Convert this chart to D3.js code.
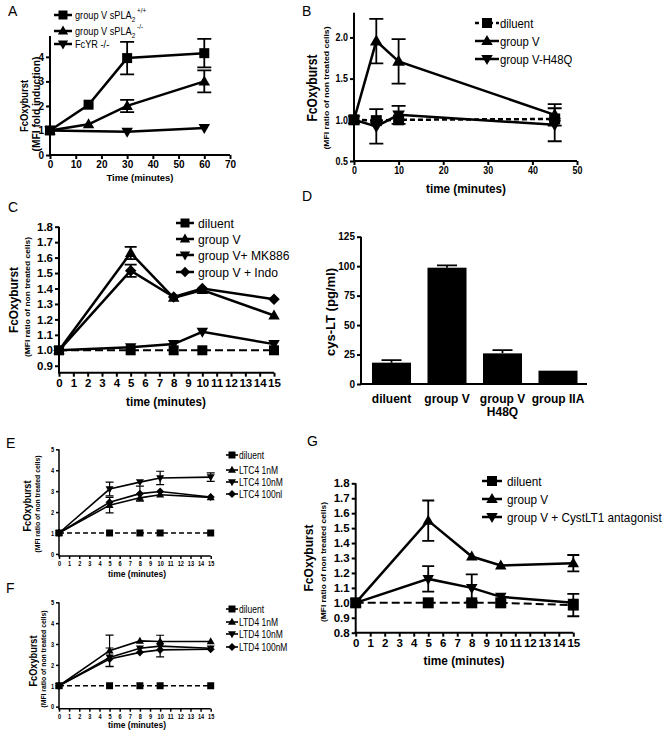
<!DOCTYPE html>
<html><head><meta charset="utf-8">
<script src="https://cdn.jsdelivr.net/npm/d3@7"></script>
<style>
body{margin:0;background:#fff;}
svg{display:block;}
text{font-family:"Liberation Sans",Arial,sans-serif;fill:#000;}
</style></head>
<body><svg id="c" width="667" height="732"></svg>
<script>
// ---------- DATA ----------
// Panel A
const aTime = [0, 15, 30, 60];
const aWT = [1.0, 2.05, 3.95, 4.15];
const aWTErr = [0, 0, 0.66, 0.58];
const aKO = [1.0, 1.25, 2.0, 3.0];
const aKOErr = [0, 0, 0.25, 0.45];
const aFcRTime = [0, 30, 60];
const aFcR = [1.0, 0.95, 1.1];
const aXTicks = [0, 10, 20, 30, 40, 50, 60, 70];
const aYTicks = [0, 1, 2, 3, 4];
// Panel B
const bTime = [0, 5, 10, 45];
const bDiluent = [1.0, 0.99, 1.0, 1.01];
const bGroupV = [1.0, 1.955, 1.71, 1.06];
const bGroupVErr = [0, 0.27, 0.27, 0.13];
const bH48Q = [1.0, 0.92, 1.06, 0.94];
const bH48QErr = [0, 0.21, 0.11, 0.2];
const bXTicks = [0, 10, 20, 30, 40, 50];
const bYTicks = [0.5, 1.0, 1.5, 2.0];
// Panel C
const cTime = [0, 5, 8, 10, 15];
const cDiluent = [1, 1, 1, 1, 1];
const cGroupV = [1.0, 1.63, 1.34, 1.39, 1.225];
const cGroupVErr = [0, 0.04, 0, 0, 0];
const cMK886 = [1.0, 1.02, 1.04, 1.12, 1.04];
const cIndo = [1.0, 1.515, 1.345, 1.40, 1.33];
const cIndoErr = [0, 0.04, 0, 0, 0];
const cXTicks = d3.range(0, 16);
const cYTicks = [0.9, 1.0, 1.1, 1.2, 1.3, 1.4, 1.5, 1.6, 1.7, 1.8];
// Panel D
const dCats = ["diluent", "group V", "group V|H48Q", "group IIA"];
const dValues = [18.1, 98.7, 26.0, 11.3];
const dErr = [2.2, 2.0, 2.7, 0];
const dYTicks = [0, 25, 50, 75, 100, 125];
// Panel E
const eTime = [0, 5, 8, 10, 15];
const eDiluent = [1, 1, 1, 1, 1];
const eLTC4_1 = [1, 2.33, 2.68, 2.83, 2.7];
const eLTC4_1Err = [0, 0.37, 0, 0, 0];
const eLTC4_10 = [1, 3.1, 3.43, 3.63, 3.67];
const eLTC4_10Err = [0, 0.33, 0, 0.32, 0.2];
const eLTC4_100 = [1, 2.47, 2.88, 2.98, 2.72];
const eLTC4_100Err = [0, 0, 0.36, 0, 0];
// Panel F
const fDiluent = [1, 1, 1, 1, 1];
const fLTD4_1 = [1, 2.68, 3.15, 3.12, 3.12];
const fLTD4_1Err = [0, 0.75, 0, 0, 0];
const fLTD4_10 = [1, 2.36, 2.8, 2.9, 2.8];
const fLTD4_10Err = [0, 0.45, 0, 0.52, 0];
const fLTD4_100 = [1, 2.28, 2.6, 2.72, 2.75];
const efXTicks = d3.range(0, 16);
const efYTicks = [0, 1, 2, 3, 4, 5];
// Panel G
const gTime = [0, 5, 8, 10, 15];
const gDiluent = [1, 1, 1, 1, 0.985];
const gDiluentErr = [0, 0, 0, 0, 0.075];
const gGroupV = [1.0, 1.55, 1.31, 1.25, 1.265];
const gGroupVErr = [0, 0.135, 0, 0, 0.055];
const gAnt = [1.0, 1.16, 1.10, 1.04, 1.0];
const gAntErr = [0, 0.085, 0.09, 0, 0];
const gXTicks = d3.range(0, 16);
const gYTicks = [0.8, 0.9, 1.0, 1.1, 1.2, 1.3, 1.4, 1.5, 1.6, 1.7, 1.8];

// ---------- HELPERS ----------
const svg = d3.select("#c");
svg.append("rect").attr("width", 667).attr("height", 732).attr("fill", "#fff");

function squeeze(sel, k) {
  if (k === 1) return;
  sel.each(function () {
    const L = this.getComputedTextLength();
    d3.select(this).attr("textLength", L * k).attr("lengthAdjust", "spacingAndGlyphs");
  });
}

function markerPath(type, s) {
  if (type === "square") return `M${-s},${-s}h${2*s}v${2*s}h${-2*s}Z`;
  if (type === "tri") return `M0,${-s*1.2}L${s*1.15},${s*0.8}L${-s*1.15},${s*0.8}Z`;
  if (type === "down") return `M0,${s*1.2}L${s*1.15},${-s*0.8}L${-s*1.15},${-s*0.8}Z`;
  if (type === "diamond") return `M0,${-s*1.15}L${s*1.15},0L0,${s*1.15}L${-s*1.15},0Z`;
}

function drawAxes(g, x, y, xt, yt, o) {
  const xa = d3.axisBottom(x).tickValues(xt).tickSizeOuter(0).tickSize(o.tick).tickPadding(o.pad)
    .tickFormat(o.xfmt || d3.format("d"));
  const ya = d3.axisLeft(y).tickValues(yt).tickSizeOuter(0).tickSize(o.tick).tickPadding(o.pad)
    .tickFormat(o.yfmt || d3.format("d"));
  const gx = g.append("g").attr("transform", `translate(0,${y.range()[0]})`).call(xa);
  const gy = g.append("g").attr("transform", `translate(${x.range()[0]},0)`).call(ya);
  [gx, gy].forEach(a => {
    a.select(".domain").attr("stroke", "#000").attr("stroke-width", o.aw);
    a.selectAll(".tick line").attr("stroke", "#000").attr("stroke-width", o.aw);
    const t = a.selectAll(".tick text").attr("font-size", o.fs).attr("font-weight", "bold")
      .attr("font-family", '"Liberation Sans",Arial,sans-serif').attr("fill", "#000");
    squeeze(t, o.k || 1);
  });
  gx.select(".domain").attr("d", `M${x.range()[0] - o.aw/2},0H${x.range()[1]}`);
  gy.select(".domain").attr("d", `M0,${y.range()[0]}V${y.range()[1]}`);
}

function drawSeries(g, x, y, s, o) {
  const pts = s.t.map((t, i) => ({t, v: s.v[i], e: s.e ? s.e[i] : 0}));
  const line = d3.line().x(d => x(d.t)).y(d => y(d.v));
  pts.filter(d => d.e > 0).forEach(d => {
    const cx = x(d.t), hw = o.cap / 2;
    const yt = y(d.v + d.e), yb = y(d.v - d.e);
    g.append("path").attr("d", `M${cx},${yb}V${yt}M${cx-hw},${yt}H${cx+hw}M${cx-hw},${yb}H${cx+hw}`)
      .attr("stroke", "#000").attr("stroke-width", o.ew).attr("fill", "none");
  });
  g.append("path").datum(pts).attr("d", line).attr("fill", "none").attr("stroke", "#000")
    .attr("stroke-width", o.lw).attr("stroke-dasharray", s.dash || null);
  g.selectAll(null).data(pts).enter().append("path")
    .attr("transform", d => `translate(${x(d.t)},${y(d.v)})`)
    .attr("d", markerPath(s.m, o.ms)).attr("fill", "#000");
}

function drawLegend(g, items, o) {
  items.forEach((it, i) => {
    const yy = o.ys[i];
    g.append("line").attr("x1", o.x - o.half).attr("x2", o.x + o.half).attr("y1", yy).attr("y2", yy)
      .attr("stroke", "#000").attr("stroke-width", o.lw).attr("stroke-dasharray", it.dash || null);
    g.append("path").attr("transform", `translate(${o.x},${yy})`).attr("d", markerPath(it.m, o.ms)).attr("fill", "#000");
    const tg = g.append("g").attr("transform", `translate(${o.tx},${yy + o.fs * 0.36}) scale(${o.k},1)`);
    const t = tg.append("text").attr("x", 0).attr("y", 0).attr("font-size", o.fs);
    if (it.parts) {
      it.parts.forEach(p => t.append("tspan").attr("dy", p.dy || 0).attr("font-size", p.fs || o.fs).text(p.t));
    } else t.text(it.label);
  });
}

function yTitle(g, x, cy, text, fs, len) {
  const t = g.append("text").attr("transform", `translate(${x},${cy}) rotate(-90)`).attr("text-anchor", "middle")
    .attr("font-size", fs).attr("font-weight", "bold").text(text);
  if (len) t.attr("textLength", len).attr("lengthAdjust", "spacingAndGlyphs");
}
function xTitle(g, cx, y, text, fs, len) {
  const t = g.append("text").attr("x", cx).attr("y", y).attr("text-anchor", "middle")
    .attr("font-size", fs).attr("font-weight", "bold").text(text);
  if (len) t.attr("textLength", len).attr("lengthAdjust", "spacingAndGlyphs");
}
function label(x, y, t, fs) {
  svg.append("text").attr("x", x).attr("y", y).attr("font-size", fs).text(t);
}

// ---------- PANEL A ----------
(function () {
  const g = svg.append("g");
  const x = d3.scaleLinear().domain([0, 70]).range([50, 230]);
  const y = d3.scaleLinear().domain([0, 4.85]).range([155, 36]);
  drawAxes(g, x, y, aXTicks, aYTicks, {tick: 4, pad: 2, aw: 2, fs: 10, k: 1});
  const o = {lw: 2.5, ew: 1.8, cap: 14, ms: 5};
  drawSeries(g, x, y, {t: aFcRTime, v: aFcR, m: "down"}, o);
  drawSeries(g, x, y, {t: aTime, v: aKO, e: aKOErr, m: "tri"}, o);
  drawSeries(g, x, y, {t: aTime, v: aWT, e: aWTErr, m: "square"}, o);
  xTitle(g, 140, 181, "Time (minutes)", 9.5, 67);
  yTitle(g, 28, 106, "FcOxyburst", 10, 52);
  yTitle(g, 40, 104, "(MFI fold induction)", 10, 95);
  drawLegend(g, [
    {m: "square", parts: [{t: "group V sPLA"}, {t: "2", dy: 3, fs: 8}, {t: " +/+", dy: -9, fs: 8}]},
    {m: "tri", parts: [{t: "group V sPLA"}, {t: "2", dy: 3, fs: 8}, {t: " -/-", dy: -9, fs: 8}]},
    {m: "down", label: "FcYR -/-"}
  ], {x: 63, half: 9, tx: 75, ys: [15, 31, 44], lw: 2.5, ms: 4.5, fs: 11.5, k: 0.8});
  label(8, 16, "A", 14);
})();

// ---------- PANEL B ----------
(function () {
  const g = svg.append("g");
  const x = d3.scaleLinear().domain([0, 50]).range([354, 577]);
  const y = d3.scaleLinear().domain([0.5, 2.3]).range([161, 12.7]);
  drawAxes(g, x, y, bXTicks, bYTicks, {tick: 4, pad: 2, aw: 2, fs: 10.5, k: 0.85, yfmt: d3.format(".1f")});
  const o = {lw: 2.5, ew: 1.8, cap: 14, ms: 5.5};
  drawSeries(g, x, y, {t: bTime, v: bH48Q, e: bH48QErr, m: "down"}, o);
  drawSeries(g, x, y, {t: bTime, v: bGroupV, e: bGroupVErr, m: "tri"}, o);
  drawSeries(g, x, y, {t: bTime, v: bDiluent, m: "square", dash: "5,3"}, o);
  xTitle(g, 466, 193, "time (minutes)", 12.5, 80);
  yTitle(g, 317, 88, "FcOxyburst", 14, 67);
  yTitle(g, 329, 88, "(MFI ratio of non treated cells)", 8, 123);
  drawLegend(g, [
    {m: "square", label: "diluent", dash: "4,3"},
    {m: "tri", label: "group V"},
    {m: "down", label: "group V-H48Q"}
  ], {x: 487, half: 12, tx: 500, ys: [23, 41, 59], lw: 2.5, ms: 5, fs: 13, k: 0.87});
  label(302, 16, "B", 14);
})();

// ---------- PANEL C ----------
(function () {
  const g = svg.append("g");
  const x = d3.scaleLinear().domain([0, 15]).range([59, 274]);
  const y = d3.scaleLinear().domain([0.855, 1.8]).range([372.7, 226.7]);
  drawAxes(g, x, y, cXTicks, cYTicks, {tick: 4, pad: 2, aw: 2, fs: 11.5, k: 1, yfmt: d3.format(".1f")});
  const o = {lw: 2.5, ew: 1.8, cap: 12, ms: 5};
  drawSeries(g, x, y, {t: cTime, v: cMK886, m: "down"}, o);
  drawSeries(g, x, y, {t: cTime, v: cIndo, e: cIndoErr, m: "diamond"}, o);
  drawSeries(g, x, y, {t: cTime, v: cGroupV, e: cGroupVErr, m: "tri"}, o);
  drawSeries(g, x, y, {t: cTime, v: cDiluent, m: "square", dash: "8,4"}, {lw: 2, ew: 1.8, cap: 12, ms: 5});
  xTitle(g, 166, 406, "time (minutes)", 12.5, 80);
  yTitle(g, 18, 300, "FcOxyburst", 13.5, 66);
  yTitle(g, 30, 297, "(MFI ratio of non treated cells)", 8, 120);
  drawLegend(g, [
    {m: "square", label: "diluent"},
    {m: "tri", label: "group V"},
    {m: "down", label: "group V+ MK886"},
    {m: "diamond", label: "group V + Indo"}
  ], {x: 185, half: 9, tx: 198, ys: [223, 239, 255, 272], lw: 2.5, ms: 4.5, fs: 13.5, k: 0.9});
  label(8, 212, "C", 14);
})();

// ---------- PANEL D ----------
(function () {
  const g = svg.append("g");
  const x = d3.scaleBand().domain(dCats).range([363.75, 585.75]).paddingInner(0.297).paddingOuter(0.1485);
  const y = d3.scaleLinear().domain([0, 125]).range([384, 236.7]);
  const ya = d3.axisLeft(y).tickValues(dYTicks).tickSizeOuter(0).tickSize(4).tickPadding(2);
  const gy = g.append("g").attr("transform", "translate(361,0)").call(ya);
  gy.select(".domain").attr("stroke-width", 2).attr("d", "M0,384V236.7");
  gy.selectAll(".tick line").attr("stroke-width", 2);
  gy.selectAll(".tick text").attr("font-size", 10).attr("font-weight", "bold")
    .attr("font-family", '"Liberation Sans",Arial,sans-serif');
  g.append("line").attr("x1", 360).attr("x2", 587).attr("y1", 384).attr("y2", 384)
    .attr("stroke", "#000").attr("stroke-width", 2);
  dCats.forEach((c, i) => {
    const cx = x(c) + x.bandwidth() / 2;
    if (dErr[i] > 0) {
      g.append("path").attr("d", `M${cx},${y(dValues[i])}V${y(dValues[i] + dErr[i])}M${cx-10},${y(dValues[i] + dErr[i])}H${cx+10}`)
        .attr("stroke", "#000").attr("stroke-width", 1.8);
    }
    g.append("rect").attr("x", x(c)).attr("width", x.bandwidth()).attr("y", y(dValues[i]))
      .attr("height", y(0) - y(dValues[i])).attr("fill", "#000");
    c.split("|").forEach((l, j) => {
      g.append("text").attr("x", cx).attr("y", 403 + j * 13).attr("text-anchor", "middle")
        .attr("font-family", '"Liberation Serif","Times New Roman",serif').attr("font-weight", "bold")
        .attr("font-size", 12).text(l);
    });
  });
  yTitle(g, 335, 312, "cys-LT (pg/ml)", 12.5, 88);
  label(302, 201, "D", 14);
})();

// ---------- PANELS E & F ----------
function drawEF(yBottom, yTop, series, legendItems, legendYs, titleY, lbl, lblY, tx, tcy) {
  const g = svg.append("g");
  const x = d3.scaleLinear().domain([0, 15]).range([59, 210.7]);
  const y = d3.scaleLinear().domain([-0.1, 5]).range([yBottom + 2, yTop]);
  drawAxes(g, x, y, efXTicks, efYTicks, {tick: 3, pad: 2, aw: 1.5, fs: 7, k: 0.8});
  const o = {lw: 1.6, ew: 1.2, cap: 8, ms: 3.5};
  series.forEach(s => drawSeries(g, x, y, s, s.dash ? {lw: 1.3, ew: 1.2, cap: 8, ms: 3.5} : o));
  xTitle(g, 137, titleY, "time (minutes)", 9.5, 58);
  yTitle(g, tx, tcy, "FcOxyburst", 10, 51);
  yTitle(g, tx + 9, tcy - 2, "(MFI ratio of non treated cells)", 6.5, 97);
  drawLegend(g, legendItems, {x: 232, half: 6, tx: 239, ys: legendYs, lw: 1.6, ms: 3.5, fs: 10, k: 0.85});
  label(6, lblY, lbl, 14);
}
drawEF(554, 449.3, [
  {t: eTime, v: eDiluent, m: "square", dash: "5,3"},
  {t: eTime, v: eLTC4_100, e: eLTC4_100Err, m: "diamond"},
  {t: eTime, v: eLTC4_1, e: eLTC4_1Err, m: "tri"},
  {t: eTime, v: eLTC4_10, e: eLTC4_10Err, m: "down"}
], [
  {m: "square", label: "diluent"}, {m: "tri", label: "LTC4 1nM"},
  {m: "down", label: "LTC4 10nM"}, {m: "diamond", label: "LTC4 100nl"}
], [455, 470, 482, 494], 577, "E", 448, 31, 506);
drawEF(706.7, 602.3, [
  {t: eTime, v: fDiluent, m: "square", dash: "5,3"},
  {t: eTime, v: fLTD4_100, m: "diamond"},
  {t: eTime, v: fLTD4_10, e: fLTD4_10Err, m: "down"},
  {t: eTime, v: fLTD4_1, e: fLTD4_1Err, m: "tri"}
], [
  {m: "square", label: "diluent"}, {m: "tri", label: "LTD4 1nM"},
  {m: "down", label: "LTD4 10nM"}, {m: "diamond", label: "LTD4 100nM"}
], [609, 622, 634, 647], 728, "F", 593, 37, 661);

// ---------- PANEL G ----------
(function () {
  const g = svg.append("g");
  const x = d3.scaleLinear().domain([0, 15]).range([355.7, 573.3]);
  const y = d3.scaleLinear().domain([0.8, 1.8]).range([632.7, 483.3]);
  drawAxes(g, x, y, gXTicks, gYTicks, {tick: 4, pad: 2, aw: 2, fs: 11.5, k: 1, yfmt: d3.format(".1f")});
  const o = {lw: 2.5, ew: 1.8, cap: 12, ms: 5};
  drawSeries(g, x, y, {t: gTime, v: gAnt, e: gAntErr, m: "down"}, o);
  drawSeries(g, x, y, {t: gTime, v: gGroupV, e: gGroupVErr, m: "tri"}, o);
  drawSeries(g, x, y, {t: gTime, v: gDiluent, e: gDiluentErr, m: "square", dash: "8,4"}, {lw: 2, ew: 1.8, cap: 12, ms: 5.5});
  xTitle(g, 464, 665, "time (minutes)", 12.5, 81);
  yTitle(g, 313, 558, "FcOxyburst", 13.5, 67);
  yTitle(g, 326, 562, "(MFI ratio of non treated cells)", 8, 120);
  drawLegend(g, [
    {m: "square", label: "diluent"},
    {m: "tri", label: "group V"},
    {m: "down", label: "group V + CystLT1 antagonist"}
  ], {x: 492, half: 10, tx: 507, ys: [481, 499, 517], lw: 2.5, ms: 5, fs: 13.5, k: 0.87});
  label(307, 446, "G", 14);
})();
</script></body></html>
